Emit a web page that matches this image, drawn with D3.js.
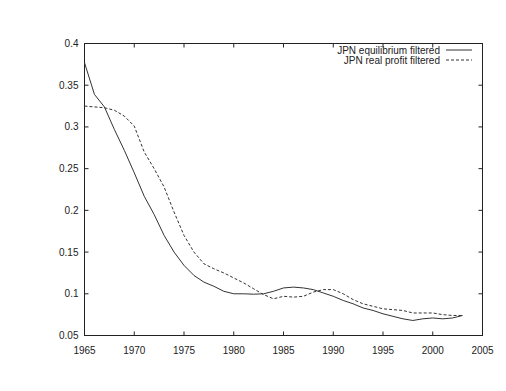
<!DOCTYPE html>
<meta charset="utf-8">
<style>
 body { margin: 0; background: #fff; }
 text { font-family: "Liberation Sans", Arial, sans-serif; font-size: 10px; fill: #222; }
</style>
<body>
<svg width="506" height="391"></svg>
<script src="https://d3js.org/d3.v7.min.js"></script>
<script>

var years = d3.range(1965, 2004);

// JPN equilibrium filtered
var equilibrium = [0.377, 0.339, 0.324, 0.297, 0.272, 0.245, 0.217, 0.195, 0.170, 0.150,
                   0.134, 0.122, 0.114, 0.109, 0.103, 0.100, 0.100, 0.0995, 0.100, 0.103,
                   0.107, 0.108, 0.107, 0.105, 0.101, 0.097, 0.092, 0.088, 0.083, 0.080,
                   0.076, 0.073, 0.070, 0.068, 0.070, 0.071, 0.070, 0.071, 0.074];

// JPN real profit filtered
var realProfit = [0.325, 0.324, 0.323, 0.320, 0.313, 0.301, 0.270, 0.250, 0.228, 0.198,
                  0.170, 0.150, 0.136, 0.130, 0.125, 0.119, 0.113, 0.106, 0.099, 0.094,
                  0.097, 0.096, 0.097, 0.102, 0.105, 0.105, 0.100, 0.093, 0.088, 0.085,
                  0.082, 0.081, 0.080, 0.077, 0.077, 0.077, 0.075, 0.074, 0.074];

var xTicks = [1965, 1970, 1975, 1980, 1985, 1990, 1995, 2000, 2005];
var yTicks = [0.05, 0.1, 0.15, 0.2, 0.25, 0.3, 0.35, 0.4];
var seriesNames = ["JPN equilibrium filtered", "JPN real profit filtered"];

var svg = d3.select("svg");
var m = { left: 84.5, right: 482.5, top: 43.5, bottom: 335.5 };

var x = d3.scaleLinear().domain([1965, 2005]).range([m.left, m.right]);
var y = d3.scaleLinear().domain([0.05, 0.4]).range([m.bottom, m.top]);

var tick = 4;
var g = svg.append("g");

// ticks on all four sides (mirrored, inward)
xTicks.forEach(function(t) {
    g.append("line").attr("x1", x(t)).attr("x2", x(t)).attr("y1", m.bottom).attr("y2", m.bottom - tick)
        .attr("stroke", "#222");
    g.append("line").attr("x1", x(t)).attr("x2", x(t)).attr("y1", m.top).attr("y2", m.top + tick)
        .attr("stroke", "#222");
    g.append("text").attr("x", x(t)).attr("y", m.bottom + 18).attr("text-anchor", "middle").text(t);
});
yTicks.forEach(function(t) {
    g.append("line").attr("x1", m.left).attr("x2", m.left + tick).attr("y1", y(t)).attr("y2", y(t))
        .attr("stroke", "#222");
    g.append("line").attr("x1", m.right).attr("x2", m.right - tick).attr("y1", y(t)).attr("y2", y(t))
        .attr("stroke", "#222");
    g.append("text").attr("x", m.left - 6).attr("y", y(t)).attr("dy", "0.35em")
        .attr("text-anchor", "end").text(d3.format("")(t));
});

g.append("rect").attr("x", m.left).attr("y", m.top).attr("width", m.right - m.left).attr("height", m.bottom - m.top)
    .attr("fill", "none").attr("stroke", "#222");

var line = d3.line()
    .x(function(d) { return x(d[0]); })
    .y(function(d) { return y(d[1]); });

var dashes = [null, "3,2"];
[equilibrium, realProfit].forEach(function(s, i) {
    svg.append("path")
        .datum(years.map(function(yr, j) { return [yr, s[j]]; }))
        .attr("d", line)
        .attr("fill", "none")
        .attr("stroke", "#333")
        .attr("stroke-width", 1)
        .attr("stroke-dasharray", dashes[i]);

    // legend
    var ly = 50 + i * 10;
    svg.append("text").attr("x", 440).attr("y", ly).attr("dy", "0.35em")
        .attr("text-anchor", "end").text(seriesNames[i]);
    svg.append("line").attr("x1", 446).attr("x2", 472).attr("y1", ly).attr("y2", ly)
        .attr("stroke", "#333").attr("stroke-dasharray", dashes[i]);
});

</script>
</body>
